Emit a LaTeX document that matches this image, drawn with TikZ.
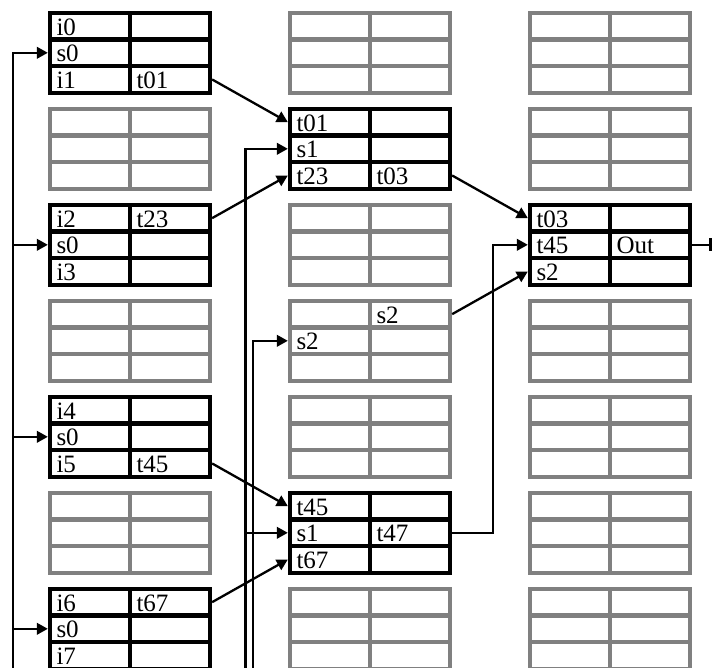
\documentclass[tikz,border=0pt]{standalone}
\usepackage{fontspec}
\setmainfont{Liberation Serif}
\usetikzlibrary{arrows.meta}

\tikzset{
  cell/.style={draw=gray, line width=4.3pt, minimum width=80pt, minimum height=26.667pt, inner sep=0pt},
  txt/.style={inner sep=0pt, text width=67pt, align=left, text height=17.9pt, text depth=0pt, font=\fontsize{25}{26}\selectfont},
}

\begin{document}
\begin{tikzpicture}[x=1pt,y=-1pt,>={Triangle[length=11pt,width=11.5pt]},line width=2.3pt]
\useasboundingbox (0,0) rectangle (714,667);
\clip (0,0) rectangle (714,667);

% all register blocks
\foreach \col in {0,1,2}
 \foreach \blk in {0,...,6}
  \foreach \row in {1,2,3}
   \foreach \k in {1,2}
    \node[cell] (b\col\blk-\row\k) at ({10+240*\col+80*\k},{96*\blk+26.667*\row-0.533}) {};

% blocks in use
\foreach \col/\blk in {0/0,0/2,0/4,0/6,1/1,1/5,2/2}
 \foreach \row in {1,2,3}
  \foreach \k in {1,2}
   \node[cell,draw=black] (b\col\blk-\row\k) at ({10+240*\col+80*\k},{96*\blk+26.667*\row-0.533}) {};

% cell contents
\foreach \cl/\tx in {00-11/i0,00-21/s0,00-31/i1,00-32/t01,
  02-11/i2,02-12/t23,02-21/s0,02-31/i3,
  04-11/i4,04-21/s0,04-31/i5,04-32/t45,
  06-11/i6,06-12/t67,06-21/s0,06-31/i7,
  11-11/t01,11-21/s1,11-31/t23,11-32/t03,
  13-12/s2,13-21/s2,
  15-11/t45,15-21/s1,15-22/t47,15-31/t67,
  22-11/t03,22-21/t45,22-22/Out,22-31/s2}
  \node[txt] (t\cl) at (b\cl) {\tx};

% partial results
\draw[->] (b00-32.east) -- (b11-11.west);
\draw[->] (b02-12.east) -- (b11-31.west);
\draw[->] (b11-32.east) -- (b22-11.west);
\draw[->] (b13-12.east) -- (b22-31.west);
\draw[->] (b04-32.east) -- (b15-11.west);
\draw[->] (b06-12.east) -- (b15-31.west);
\draw[->] (b15-22.east) -- ++(41,0) |- (b22-21.west);
\draw[-{Bar[width=13pt,line width=3.5pt]}] (b22-22.east) -- ++(20,0);

% select lines
\coordinate (bus0) at (13,680);
\coordinate (bus1) at (245.5,680);
\coordinate (bus2) at (253.2,680);
\draw[->] (bus0) |- (b00-21.west);
\foreach \blk in {2,4,6}
  \draw[->] (bus0 |- b0\blk-21.west) -- (b0\blk-21.west);
\draw[->] (bus1) |- (b11-21.west);
\draw[->] (bus1 |- b15-21.west) -- (b15-21.west);
\draw[->] (bus2) |- (b13-21.west);
\end{tikzpicture}
\end{document}
